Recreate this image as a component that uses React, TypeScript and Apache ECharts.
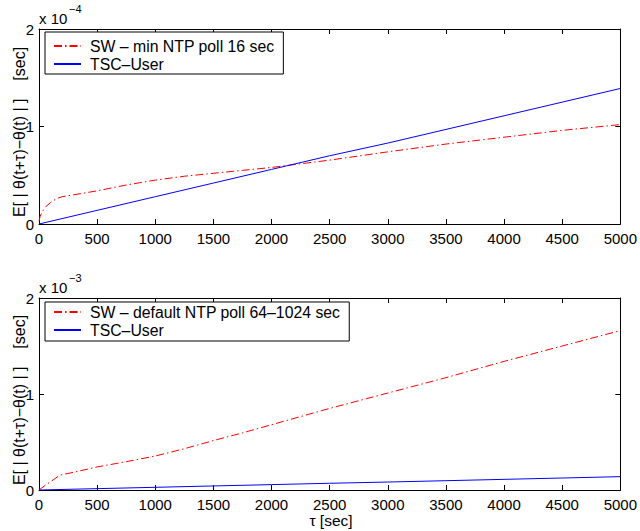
import React, { useEffect, useRef } from "react";
import * as echarts from "echarts";

// ---- data (top panel, units of 1e-4 s) ----
const tauSwTop = [0, 10, 30, 60, 100, 150, 200, 300, 500, 750, 1000, 1250, 1500, 1750, 2000, 2500, 3000, 3500, 4000, 4500, 5000];
const swMinPoll = [0.03, 0.08, 0.13, 0.18, 0.22, 0.26, 0.28, 0.3, 0.34, 0.4, 0.45, 0.49, 0.52, 0.55, 0.58, 0.655, 0.74, 0.82, 0.89, 0.96, 1.02];
const tauUser = [0, 500, 1000, 1500, 2000, 2500, 3000, 3500, 4000, 4500, 5000];
const tscUserTop = [0, 0.14, 0.28, 0.42, 0.56, 0.7, 0.83, 0.97, 1.11, 1.25, 1.39];

// ---- data (bottom panel, units of 1e-3 s) ----
const tauSwBot = [0, 50, 100, 180, 300, 500, 750, 1000, 1250, 1500, 1750, 2000, 2500, 3000, 3500, 4000, 4500, 5000];
const swDefaultPoll = [0.0, 0.045, 0.087, 0.155, 0.185, 0.24, 0.295, 0.354, 0.43, 0.515, 0.595, 0.68, 0.85, 1.01, 1.17, 1.34, 1.5, 1.66];
const tscUserBot = [0, 0.014, 0.028, 0.042, 0.056, 0.07, 0.083, 0.097, 0.111, 0.125, 0.139];

const xTicks = { min: 0, max: 5000, interval: 500 };
const yTicks = { min: 0, max: 2, interval: 1 };

const NAME_SW_TOP = "SW – min NTP poll 16 sec";
const NAME_SW_BOT = "SW – default NTP poll 64–1024 sec";
const NAME_USER = "TSC–User";

const FONT = "Liberation Sans, Arial, Helvetica, sans-serif";
const RED = "#ff0000";
const BLUE = "#0000ff";

const zip = (xs: number[], ys: number[]) => xs.map((x, i) => [x, ys[i]]);

function xAxisPair(gridIndex: number) {
  const base = {
    type: "value" as const,
    gridIndex,
    ...xTicks,
    axisLine: { show: true, onZero: false, lineStyle: { color: "#000", width: 1 } },
    axisTick: { show: true, inside: true, length: 5, lineStyle: { color: "#000", width: 1 } },
    splitLine: { show: false },
  };
  return [
    {
      ...base,
      position: "bottom",
      axisLabel: { color: "#000", fontSize: 15, fontFamily: FONT, margin: 7, formatter: (v: number) => String(v) },
    },
    { ...base, position: "top", axisLabel: { show: false } },
  ];
}

function yAxisPair(gridIndex: number) {
  const base = {
    type: "value" as const,
    gridIndex,
    ...yTicks,
    axisLine: { show: true, onZero: false, lineStyle: { color: "#000", width: 1 } },
    axisTick: { show: true, inside: true, length: 5, lineStyle: { color: "#000", width: 1 } },
    splitLine: { show: false },
  };
  return [
    { ...base, position: "left", axisLabel: { color: "#000", fontSize: 15, fontFamily: FONT, margin: 5, formatter: (v: number) => String(v) } },
    { ...base, position: "right", axisLabel: { show: false } },
  ];
}

function legend(top: number, names: string[], padding: number[]) {
  return {
    left: 45,
    top,
    orient: "vertical",
    data: names,
    borderColor: "#000",
    borderWidth: 1,
    borderRadius: 0,
    backgroundColor: "#fff",
    padding,
    itemGap: 2,
    itemWidth: 27,
    itemHeight: 16,
    selectedMode: false,
    itemStyle: { opacity: 0, borderWidth: 0 },
    textStyle: { fontSize: 15.8, fontFamily: FONT, color: "#000", lineHeight: 16, padding: [0, 0, 0, 4] },
  };
}

export default function App() {
  const ref = useRef<HTMLDivElement>(null);
  useEffect(() => {
    if (!ref.current) return;
    const chart = echarts.init(ref.current, undefined, { renderer: "svg" });
    const redStyle = { color: RED, width: 1, type: [8, 3, 1.5, 3] as number[] };
    const blueStyle = { color: BLUE, width: 1, type: "solid" as const };
    chart.setOption({
      animation: false,
      backgroundColor: "#fff",
      grid: [
        { left: 39, top: 29, width: 584, height: 195 },
        { left: 39, top: 298, width: 584, height: 192 },
      ],
      xAxis: [...xAxisPair(0), ...xAxisPair(1)],
      yAxis: [...yAxisPair(0), ...yAxisPair(1)],
      legend: [
        legend(32, [NAME_SW_TOP, NAME_USER], [6, 9, 2, 8]),
        legend(302, [NAME_SW_BOT, NAME_USER], [2, 9, 3, 8]),
      ],
      series: [
        { type: "line", name: NAME_SW_TOP, xAxisIndex: 0, yAxisIndex: 0, data: zip(tauSwTop, swMinPoll), symbol: "none", lineStyle: redStyle, itemStyle: { color: RED } },
        { type: "line", name: NAME_USER, xAxisIndex: 0, yAxisIndex: 0, data: zip(tauUser, tscUserTop), symbol: "none", lineStyle: blueStyle, itemStyle: { color: BLUE } },
        { type: "line", name: NAME_SW_BOT, xAxisIndex: 2, yAxisIndex: 2, data: zip(tauSwBot, swDefaultPoll), symbol: "none", lineStyle: redStyle, itemStyle: { color: RED } },
        { type: "line", name: NAME_USER, xAxisIndex: 2, yAxisIndex: 2, data: zip(tauUser, tscUserBot), symbol: "none", lineStyle: blueStyle, itemStyle: { color: BLUE } },
      ],
      graphic: [
        { type: "text", left: 39, top: 11, style: { text: "x 10", fontSize: 15, fontFamily: FONT, fill: "#000" } },
        { type: "text", left: 69, top: 3, style: { text: "−4", fontSize: 11, fontFamily: FONT, fill: "#000" } },
        { type: "text", left: 39, top: 280, style: { text: "x 10", fontSize: 15, fontFamily: FONT, fill: "#000" } },
        { type: "text", left: 69, top: 272, style: { text: "−3", fontSize: 11, fontFamily: FONT, fill: "#000" } },
        {
          type: "text", x: 19, y: 132, rotation: Math.PI / 2,
          style: { text: "E[ | θ(t+τ)−θ(t) | ]    [sec]", fontSize: 16, fontFamily: FONT, fill: "#000", align: "center", verticalAlign: "middle" },
        },
        {
          type: "text", x: 19, y: 400, rotation: Math.PI / 2,
          style: { text: "E[ | θ(t+τ)−θ(t) | ]    [sec]", fontSize: 16, fontFamily: FONT, fill: "#000", align: "center", verticalAlign: "middle" },
        },
        {
          type: "text", x: 331, y: 520,
          style: { text: "τ [sec]", fontSize: 15.5, fontFamily: FONT, fill: "#000", align: "center", verticalAlign: "middle" },
        },
      ],
    });
    return () => chart.dispose();
  }, []);
  return (
    <div
      ref={ref}
      style={{ position: "fixed", left: 0, top: 0, width: 640, height: 531, background: "#fff" }}
    />
  );
}
